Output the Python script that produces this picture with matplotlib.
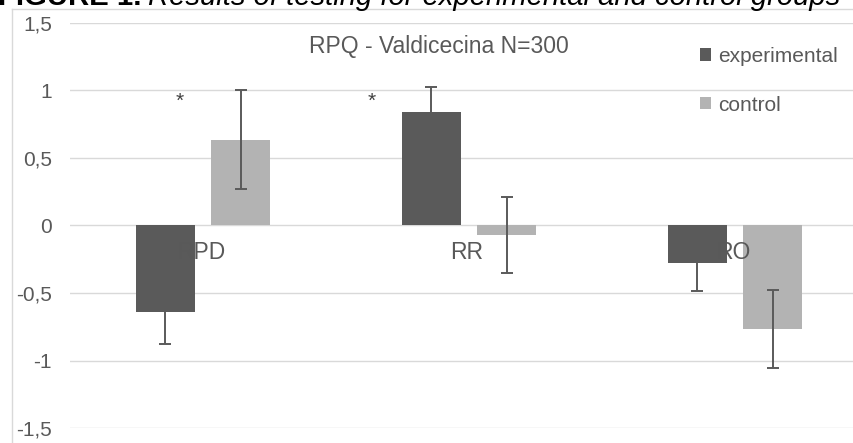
import matplotlib
matplotlib.use('Agg')
import matplotlib.pyplot as plt
import numpy as np
from matplotlib.lines import Line2D

plt.rcParams['font.family'] = ['Liberation Sans', 'DejaVu Sans']

categories = ['RPD', 'RR', 'RO']
experimental = [-0.64, 0.84, -0.275]
experimental_err = [0.24, 0.185, 0.21]
control = [0.637, -0.07, -0.765]
control_err = [0.37, 0.28, 0.29]
star_x = [-0.086, 0.635]
star_y = [0.92, 0.92]
yticks = [-1.5, -1, -0.5, 0, 0.5, 1, 1.5]
ytick_labels = ['-1,5', '-1', '-0,5', '0', '0,5', '1', '1,5']

W, H = 854, 443
fig = plt.figure(figsize=(W / 100, H / 100), dpi=100)
ax = fig.add_axes([70 / W, 15 / H, 798 / W, 405 / H])

dark = '#5a5a5a'
light = '#b3b3b3'
txt = '#595959'
grid = '#d9d9d9'

x = np.arange(len(categories))
bw = 0.222
off = 0.141
ax.bar(x - off, experimental, bw, color=dark, label='experimental', zorder=2)
ax.bar(x + off, control, bw, color=light, label='control', zorder=2)
ax.errorbar(x - off, experimental, yerr=experimental_err, fmt='none',
            ecolor=dark, elinewidth=1.4, capsize=4, capthick=1.4, zorder=3)
ax.errorbar(x + off, control, yerr=control_err, fmt='none',
            ecolor=dark, elinewidth=1.4, capsize=4, capthick=1.4, zorder=3)

for sx, sy in zip(star_x, star_y):
    ax.text(sx, sy, '*', ha='center', va='center', fontsize=15, color='#404040')

ax.set_xlim(-0.5, 2.5)
ax.set_ylim(-1.5, 1.5)
ax.set_yticks(yticks)
ax.set_yticklabels(ytick_labels)
ax.yaxis.grid(True, color=grid, linewidth=1.0, zorder=0)
ax.set_axisbelow(True)
ax.tick_params(axis='y', length=0, pad=13, labelsize=15, labelcolor=txt)
ax.set_xticks([])
for s in ax.spines.values():
    s.set_visible(False)

# category labels sit just under the zero line, drawn over the bars
for xi, name in zip(x, categories):
    ax.annotate(name, (xi, 0), xytext=(-1.5, -19.5), textcoords='offset points',
                ha='center', va='center', fontsize=16.5, color=txt, zorder=5)

fig.text(439 / W, 1 - 47 / H, 'RPQ - Valdicecina N=300', ha='center', va='center',
         fontsize=16.5, color=txt)

leg = fig.legend(loc='upper left', bbox_to_anchor=(700 / W, 1 - 47 / H),
                 frameon=False, fontsize=15, labelcolor=txt,
                 handlelength=0.55, handleheight=0.55, handletextpad=0.3,
                 labelspacing=1.42, borderpad=0, borderaxespad=0)

# chart border (left and top edges only are in view)
fig.add_artist(Line2D([12 / W, 12 / W], [0, 1 - 9 / H], transform=fig.transFigure,
                      color=grid, linewidth=1.0))
fig.add_artist(Line2D([12 / W, 1], [1 - 9 / H, 1 - 9 / H], transform=fig.transFigure,
                      color=grid, linewidth=1.0))

# figure caption, cropped at the top of the image
fs = 20
t1 = fig.text(-2 / W, 1 - 5 / H, 'FIGURE 1.', fontsize=fs, fontweight='bold',
              va='baseline', ha='left', color='black')
r = fig.canvas.get_renderer()
w1 = t1.get_window_extent(r).width
t2 = fig.text((-2 + w1 + 6) / W, 1 - 5 / H,
              'Results of testing for experimental and control groups',
              fontsize=fs, style='italic', va='baseline', ha='left', color='black')
total = w1 + 6 + t2.get_window_extent(r).width
scale = 842 / total
t1.set_fontsize(fs * scale)
w1 = t1.get_window_extent(r).width
t2.set_fontsize(fs * scale)
t2.set_x((-2 + w1 + 6 * scale) / W)

fig.savefig('out.png', dpi=100)
